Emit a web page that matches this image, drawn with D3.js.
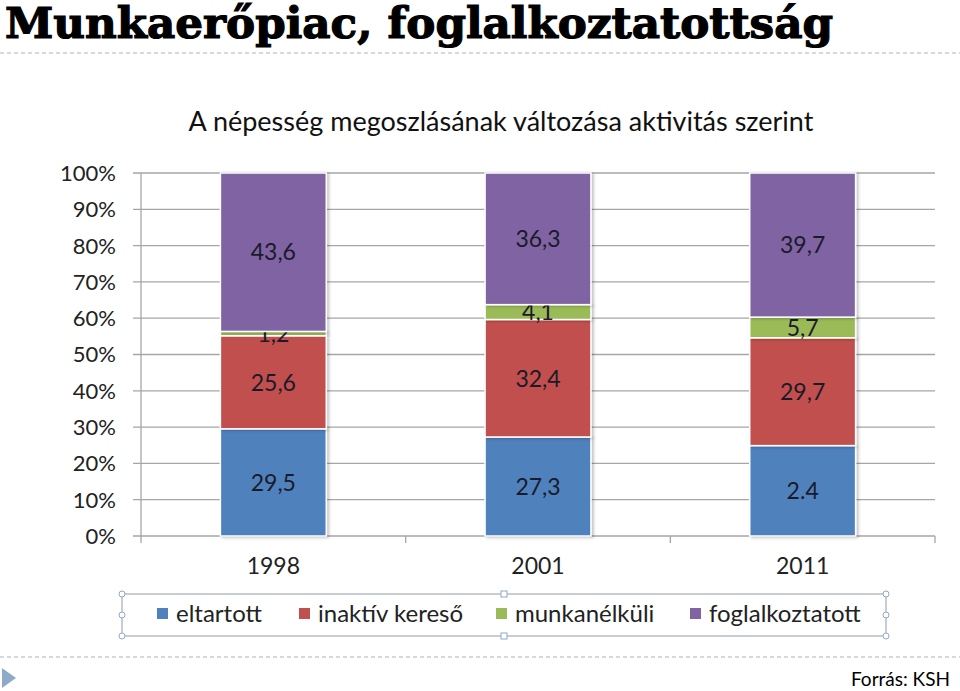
<!DOCTYPE html>
<meta charset="utf-8">
<style>
body { margin: 0; background: #fff; }
text { font-family: Lato, "Open Sans", sans-serif; }
</style>
<svg width="960" height="691"></svg>
<script src="https://d3js.org/d3.v7.min.js"></script>
<script>
// data (percent shares)
var years = ["1998", "2001", "2011"];
var seriesNames = ["eltartott", "inaktív kereső", "munkanélküli", "foglalkoztatott"];
var eltartott = [29.5, 27.3, 24.9];
var inaktiv = [25.6, 32.4, 29.7];
var munkanelkuli = [1.2, 4.1, 5.7];
var foglalkoztatott = [43.6, 36.3, 39.7];
// labels as printed on the chart (2011 blue reads "2.4")
var labelText = [
  ["29,5", "27,3", "2.4"],
  ["25,6", "32,4", "29,7"],
  ["1,2", "4,1", "5,7"],
  ["43,6", "36,3", "39,7"]
];
var yTicks = [0, 10, 20, 30, 40, 50, 60, 70, 80, 90, 100];
var colors = ["#4F81BD", "#C0504D", "#9BBB59", "#8064A2"];

var svg = d3.select("svg");

// slide title + separators
svg.append("text")
    .attr("x", 5).attr("y", 38)
    .style("font-family", "'DejaVu Serif', serif")
    .style("font-weight", "bold")
    .style("font-size", "42px")
    .attr("stroke", "#000").attr("stroke-width", 1.2)
    .attr("textLength", 828).attr("lengthAdjust", "spacingAndGlyphs")
    .text("Munkaerőpiac, foglalkoztatottság");

svg.append("line")
    .attr("x1", 0).attr("x2", 960).attr("y1", 53).attr("y2", 53)
    .attr("stroke", "#aab2bb").attr("stroke-dasharray", "4,3");
svg.append("line")
    .attr("x1", 0).attr("x2", 960).attr("y1", 657).attr("y2", 657)
    .attr("stroke", "#aab2bb").attr("stroke-dasharray", "4,3");
svg.append("path")
    .attr("d", "M2,668 L16,678 L2,688 Z")
    .attr("fill", "#8eaacb");
svg.append("text")
    .attr("x", 950).attr("y", 686)
    .attr("text-anchor", "end")
    .style("font-size", "19px")
    .text("Forrás: KSH");

svg.append("text")
    .attr("x", 501).attr("y", 131)
    .attr("text-anchor", "middle")
    .style("font-size", "27px")
    .attr("fill", "#111")
    .text("A népesség megoszlásának változása aktivitás szerint");

// chart
var margin = {left: 141, right: 25, top: 173, bottom: 155};
var width = 960 - margin.left - margin.right,
    height = 691 - margin.top - margin.bottom;

var g = svg.append("g")
    .attr("transform", "translate(" + margin.left + "," + margin.top + ")");

var x = d3.scaleBand().domain(years).range([0, width]).paddingInner(0.6).paddingOuter(0.3);
var y = d3.scaleLinear().domain([0, 100]).range([height, 0]);

var table = years.map(function(yr, i) {
  var row = {year: yr};
  var vals = [eltartott[i], inaktiv[i], munkanelkuli[i], foglalkoztatott[i]];
  var tot = d3.sum(vals);
  seriesNames.forEach(function(s, j) { row[s] = vals[j] / tot * 100; });
  return row;
});
var stacked = d3.stack().keys(seriesNames)(table);

// gridlines
g.selectAll(".grid")
    .data(yTicks)
  .enter().append("line")
    .attr("x1", -8).attr("x2", width)
    .attr("y1", function(d) { return y(d); })
    .attr("y2", function(d) { return y(d); })
    .attr("stroke", "#a6a6a6").attr("stroke-width", 1.3);

g.append("line")
    .attr("x1", 0).attr("x2", 0).attr("y1", 0).attr("y2", height)
    .attr("stroke", "#a6a6a6").attr("stroke-width", 1.3);

// y axis labels
g.selectAll(".ylab")
    .data(yTicks)
  .enter().append("text")
    .attr("x", -25)
    .attr("y", function(d) { return y(d); })
    .attr("dy", "0.36em")
    .attr("text-anchor", "end")
    .attr("fill", "#222")
    .style("font-size", "22px")
    .text(function(d) { return d + "%"; });

// category axis ticks
g.selectAll(".xtick")
    .data(d3.range(years.length + 1))
  .enter().append("line")
    .attr("x1", function(d) { return d * width / years.length; })
    .attr("x2", function(d) { return d * width / years.length; })
    .attr("y1", height).attr("y2", height + 7)
    .attr("stroke", "#a6a6a6").attr("stroke-width", 1.3);

g.selectAll(".xlab")
    .data(years)
  .enter().append("text")
    .attr("x", function(d) { return x(d) + x.bandwidth() / 2; })
    .attr("y", height + 38)
    .attr("text-anchor", "middle")
    .attr("fill", "#222")
    .style("font-size", "23px")
    .text(function(d) { return d; });

// shadow
var defs = svg.append("defs");
var f = defs.append("filter").attr("id", "sh").attr("x", "-10%").attr("y", "-10%").attr("width", "130%").attr("height", "130%");
f.append("feDropShadow").attr("dx", 2).attr("dy", 1).attr("stdDeviation", 1.5).attr("flood-color", "#000").attr("flood-opacity", 0.25);

var layers = g.selectAll(".layer")
    .data(stacked)
  .enter().append("g")
    .attr("fill", function(d, i) { return colors[i]; });

layers.selectAll("rect")
    .data(function(d) { return d; })
  .enter().append("rect")
    .attr("x", function(d) { return x(d.data.year); })
    .attr("y", function(d) { return y(d[1]); })
    .attr("width", x.bandwidth())
    .attr("height", function(d) { return y(d[0]) - y(d[1]); })
    .attr("stroke", "#fff").attr("stroke-width", 1.5)
    .attr("filter", "url(#sh)");

layers.each(function(s, i) {
  d3.select(this).selectAll("text")
      .data(s)
    .enter().append("text")
      .attr("x", function(d) { return x(d.data.year) + x.bandwidth() / 2; })
      .attr("y", function(d) { return y((d[0] + d[1]) / 2); })
      .attr("dy", "0.36em")
      .attr("text-anchor", "middle")
      .attr("fill", "#1a1a2a")
      .style("font-size", "23px")
      .text(function(d, j) { return labelText[i][j]; });
});

// legend
var lg = svg.append("g");
lg.append("rect")
    .attr("x", 122).attr("y", 594).attr("width", 764).attr("height", 42)
    .attr("fill", "none").attr("stroke", "#a9b3bd").attr("stroke-width", 1.3);
var legendX = [157, 299, 496, 690];
seriesNames.forEach(function(s, i) {
  lg.append("rect")
      .attr("x", legendX[i]).attr("y", 608)
      .attr("width", 11).attr("height", 11)
      .attr("fill", colors[i]);
  lg.append("text")
      .attr("x", legendX[i] + 19).attr("y", 622)
      .attr("fill", "#222")
      .style("font-size", "24px")
      .text(s);
});
// selection handles
[[122, 594], [886, 594], [122, 636], [886, 636], [122, 615], [886, 615]].forEach(function(p) {
  lg.append("circle").attr("cx", p[0]).attr("cy", p[1]).attr("r", 3)
      .attr("fill", "#fff").attr("stroke", "#8ea9c8");
});
[[504, 594], [504, 636]].forEach(function(p) {
  lg.append("rect").attr("x", p[0] - 3).attr("y", p[1] - 3).attr("width", 6).attr("height", 6)
      .attr("fill", "#fff").attr("stroke", "#8ea9c8");
});
</script>
